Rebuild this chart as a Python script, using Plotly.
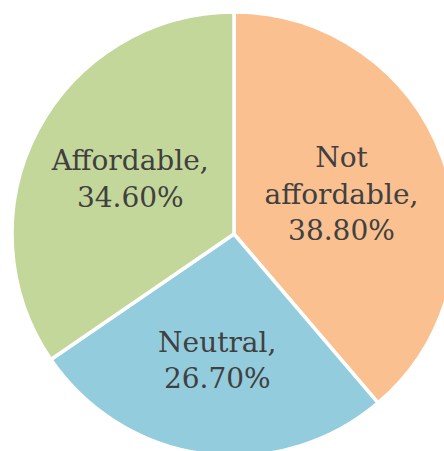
import plotly.graph_objects as go

categories = ["Not affordable", "Neutral", "Affordable"]
display_names = ["Not<br>affordable,", "Neutral,", "Affordable,"]
shares = [38.8, 26.7, 34.6]
colors = ["#FAC090", "#93CDDD", "#C4D79B"]

fig = go.Figure(
    go.Pie(
        labels=categories,
        values=shares,
        text=display_names,
        texttemplate="%{text}<br>%{value:.2f}%",
        textposition="inside",
        insidetextorientation="horizontal",
        sort=False,
        direction="clockwise",
        rotation=0,
        marker=dict(colors=colors, line=dict(color="white", width=3.5)),
        textfont=dict(family="DejaVu Serif", size=28, color="#404040"),
        hoverinfo="skip",
        showlegend=False,
        domain=dict(x=[0, 1], y=[0, 1]),
    )
)

fig.update_layout(
    width=468,
    height=470,
    margin=dict(l=12, r=12, t=12, b=14, pad=0),
    paper_bgcolor="white",
    plot_bgcolor="white",
    showlegend=False,
)

fig.write_html(
    "out.html",
    config={"displayModeBar": False},
    post_script=(
        "document.body.style.margin='0';"
        "document.body.style.overflow='hidden';"
        "document.documentElement.style.overflow='hidden';"
    ),
)
